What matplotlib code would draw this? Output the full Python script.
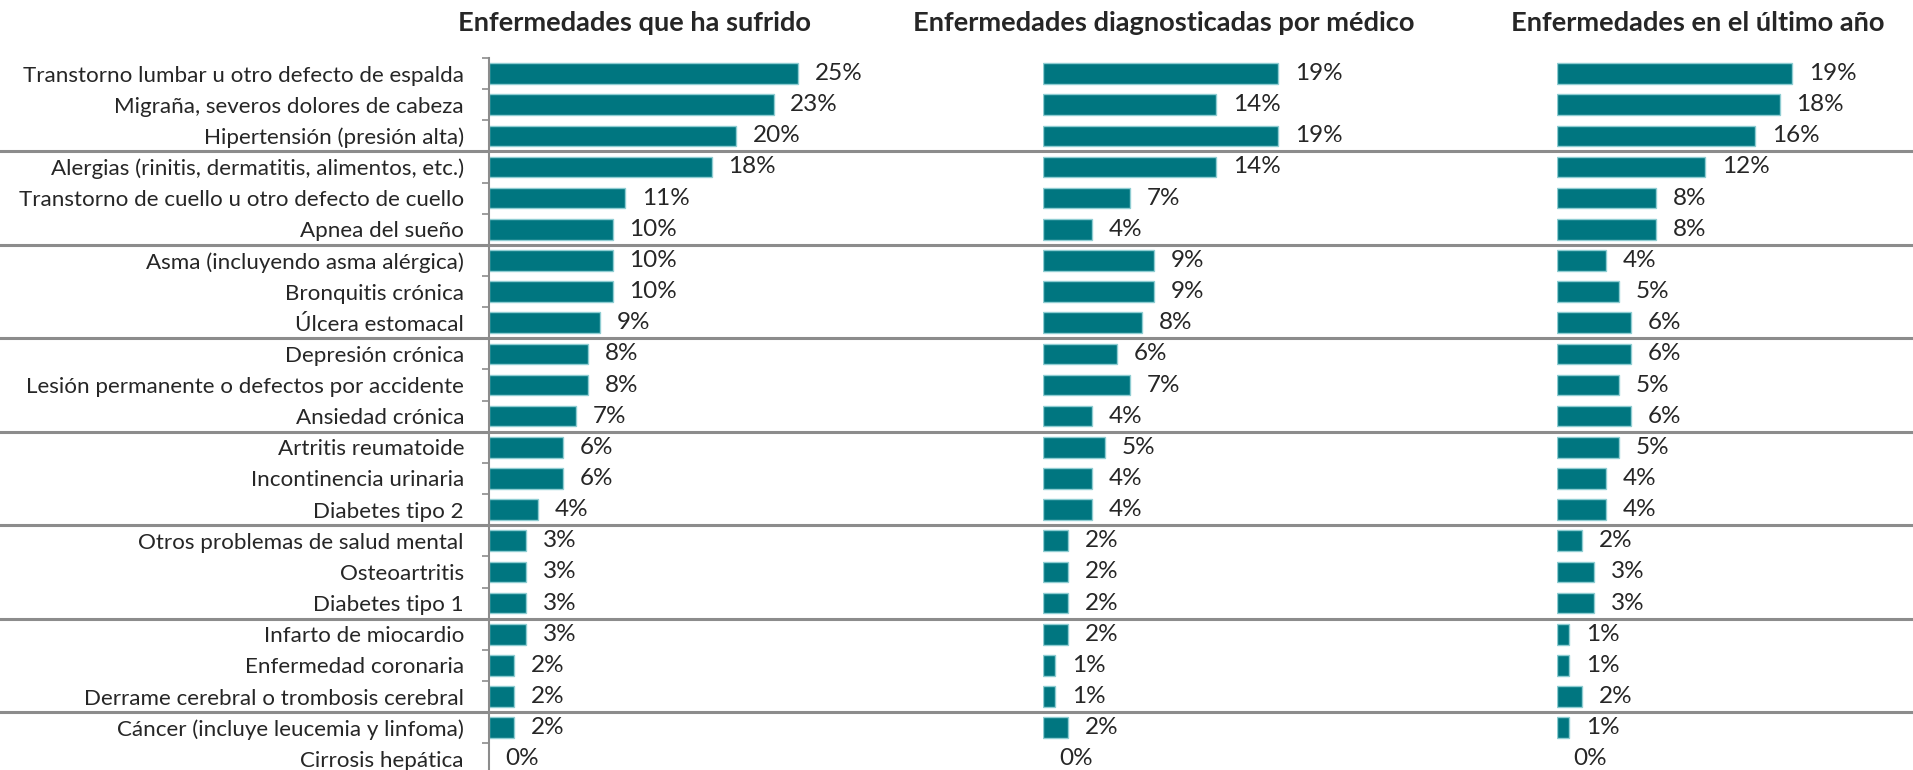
import matplotlib
matplotlib.use("Agg")
import matplotlib.pyplot as plt
from matplotlib.lines import Line2D
from matplotlib import transforms
import numpy as np

# data (percent)
categories = [
    "Transtorno lumbar u otro defecto de espalda",
    "Migraña, severos dolores de cabeza",
    "Hipertensión (presión alta)",
    "Alergias (rinitis, dermatitis, alimentos, etc.)",
    "Transtorno de cuello u otro defecto de cuello",
    "Apnea del sueño",
    "Asma (incluyendo asma alérgica)",
    "Bronquitis crónica",
    "Úlcera estomacal",
    "Depresión crónica",
    "Lesión permanente o defectos por accidente",
    "Ansiedad crónica",
    "Artritis reumatoide",
    "Incontinencia urinaria",
    "Diabetes tipo 2",
    "Otros problemas de salud mental",
    "Osteoartritis",
    "Diabetes tipo 1",
    "Infarto de miocardio",
    "Enfermedad coronaria",
    "Derrame cerebral o trombosis cerebral",
    "Cáncer (incluye leucemia y linfoma)",
    "Cirrosis hepática",
]
sufrido = [25, 23, 20, 18, 11, 10, 10, 10, 9, 8, 8, 7, 6, 6, 4, 3, 3, 3, 3, 2, 2, 2, 0]
diagnosticadas = [19, 14, 19, 14, 7, 4, 9, 9, 8, 6, 7, 4, 5, 4, 4, 2, 2, 2, 2, 1, 1, 2, 0]
ultimo_ano = [19, 18, 16, 12, 8, 8, 4, 5, 6, 6, 5, 6, 5, 4, 4, 2, 3, 3, 1, 1, 2, 1, 0]
titles = ["Enfermedades que ha sufrido",
          "Enfermedades diagnosticadas por médico",
          "Enfermedades en el último año"]
group_breaks = [3, 6, 9, 12, 15, 18, 21]

FONT = ["Lato", "DejaVu Sans"]
plt.rcParams['font.family'] = FONT

W, H = 1913, 770
fig = plt.figure(figsize=(W / 100, H / 100), dpi=100)

bar_color = "#007680"
edge_color = "#8fcdd2"
text_color = "#262626"
line_color = "#8c8c8c"
px_per_pct = 12.37

n = len(categories)
y = np.arange(n)
ax_bottom = 1 - 774.4 / H
ax_height = n * 31.15 / H

# axis x position (px) and right edge for each panel
panels = [(489, 1043), (1043, 1557), (1557, 1913)]
series = [sufrido, diagnosticadas, ultimo_ano]
title_x = [634, 1164, 1698]

axes = []
for i, ((x0, x1), vals) in enumerate(zip(panels, series)):
    ax = fig.add_axes([x0 / W, ax_bottom, (x1 - x0) / W, ax_height])
    lw = [1.0 if v > 0 else 0 for v in vals]
    ax.barh(y, vals, height=0.66, color=bar_color, edgecolor=edge_color, linewidth=lw)
    for yi, v in zip(y, vals):
        ax.annotate(f"{v}%", (v, yi), xytext=(12, 0), textcoords="offset points",
                    ha="left", va="center", fontsize=17.5, color=text_color)
    ax.set_xlim(0, (x1 - x0) / px_per_pct)
    ax.set_ylim(n - 0.5, -0.5)
    ax.set_xticks([])
    for s in ["top", "right", "bottom"]:
        ax.spines[s].set_visible(False)
    if i == 0:
        ax.spines["left"].set_color(line_color)
        ax.spines["left"].set_linewidth(1.5)
        ax.set_yticks(y)
        ax.set_yticklabels(categories, fontsize=16.1, color=text_color)
        ax.tick_params(axis="y", which="major", length=0, pad=18)
        ax.set_yticks(np.arange(n + 1) - 0.5, minor=True)
        ax.tick_params(axis="y", which="minor", length=5, width=1.2,
                       color=line_color, direction="out")
    else:
        ax.spines["left"].set_visible(False)
        ax.set_yticks([])
    ax.patch.set_alpha(0)
    fig.text(title_x[i] / W, 1 - 30.7 / H, titles[i], ha="center", va="baseline",
             fontsize=19.6, fontweight="bold", color=text_color)
    axes.append(ax)

# group separators across the whole figure
trans = transforms.blended_transform_factory(fig.transFigure, axes[0].transData)
for b in group_breaks:
    fig.add_artist(Line2D([0, 1], [b - 0.5, b - 0.5], transform=trans,
                          color=line_color, linewidth=2.2))

fig.savefig("out.png", dpi=100)
